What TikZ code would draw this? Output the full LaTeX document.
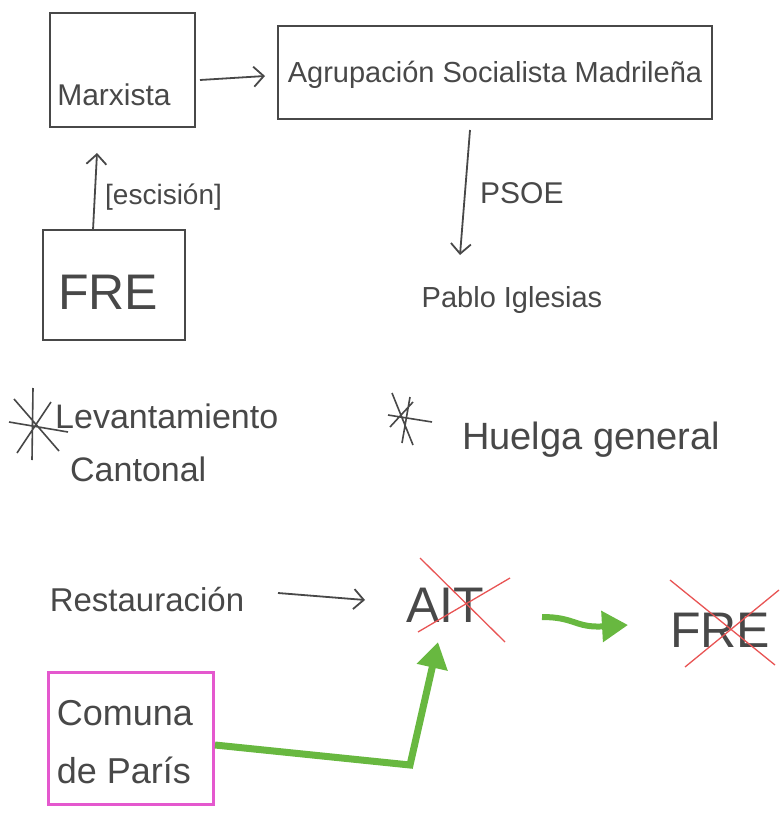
\documentclass[tikz,border=0pt]{standalone}
\usepackage{fontspec}
\setmainfont{Liberation Sans}
\usetikzlibrary{arrows.meta}
\definecolor{ink}{RGB}{72,72,72}
\definecolor{crossred}{RGB}{232,84,84}
\definecolor{mygreen}{RGB}{104,184,64}
\definecolor{mypink}{RGB}{228,88,206}
\newcommand{\fs}[2]{\fontsize{#1}{#2}\selectfont}
\tikzset{
  txt/.style={inner sep=0pt, text=ink},
  box/.style={draw=ink, line width=2pt, inner sep=0pt},
  pinkbox/.style={draw=mypink, line width=3pt, inner sep=0pt},
  arr/.style={draw=ink, line width=1.8pt, -{Straight Barb[length=10pt,width=20pt,line width=1.8pt]}},
  garr/.style={draw=mygreen, line width=6pt, -{Triangle[length=26pt,width=30pt]}},
  cross/.style={draw=crossred, line width=1.3pt},
  star/.style={draw=ink, line width=1.6pt},
}
\begin{document}
\begin{tikzpicture}[x=1pt,y=-1pt]
\useasboundingbox (0,0) rectangle (779,821);
% top row
\node[box, minimum width=145pt, minimum height=114pt] (marx) at (122,70) {};
\node[txt, font=\fs{30}{36}] (marxt) at (114,95) {Marxista};
\node[box, minimum width=434pt, minimum height=93pt] (agr) at (495,73) {};
\node[txt, font=\fs{29}{34}] (agrt) at (495,75) {Agrupación Socialista Madrileña};
\draw[arr] ([xshift=78pt,yshift=-10pt]marx.center) -- ([xshift=-230pt,yshift=-3pt]agr.center);
% PSOE
\node[txt, font=\fs{29}{34}] (pablo) at (512,300) {Pablo Iglesias};
\draw[arr] ([xshift=-25pt,yshift=-57pt]agr.center) -- ([xshift=-52pt,yshift=45pt]pablo.center);
\node[txt, font=\fs{30}{36}, anchor=west] (psoe) at (480,193) {PSOE};
% FRE box
\node[box, minimum width=142pt, minimum height=110pt] (fre) at (114,285) {};
\node[txt, font=\fs{50}{60}] (fret) at (108,292) {FRE};
\draw[arr] ([xshift=-21pt,yshift=55pt]fre.center) -- ([xshift=-25pt,yshift=-83pt]marx.center);
\node[txt, font=\fs{28}{32}, anchor=west] (esc) at (105,197) {[escisión]};
% asterisks and events
\draw[star] (33,388) -- (32,460) (14,399) -- (59,451) (9,422) -- (68,432) (17,453) -- (51,402);
\node[txt, font=\fs{34}{40}, anchor=west] (lev) at (55,416) {Levantamiento};
\node[txt, font=\fs{34}{40}, anchor=west] (cant) at (70,469) {Cantonal};
\draw[star] (392,393) -- (413,445) (410,397) -- (402,443) (388,415) -- (432,422) (390,427) -- (413,402);
\node[txt, font=\fs{38}{44}, anchor=west] (huel) at (462,440) {Huelga general};
% bottom
\node[txt, font=\fs{33}{40}] (rest) at (147,600) {Restauración};
\node[txt, font=\fs{50}{60}] (ait) at (445,605) {AIT};
\draw[arr] ([xshift=131pt,yshift=7pt]rest.center) -- ([xshift=-80pt,yshift=5pt]ait.center);
\draw[cross] (420,558) -- (505,642) (418,632) -- (510,578);
\node[txt, font=\fs{50}{60}] (fre2) at (720,630) {FRE};
\draw[cross] (670,580) -- (775,665) (685,667) -- (779,590);
\draw[garr] ([xshift=97pt,yshift=-12pt]ait.center) .. controls (575,617) and (575,628) .. ([xshift=-92pt,yshift=5pt]fre2.center);
\node[pinkbox, minimum width=165pt, minimum height=132pt] (com) at (131,738) {};
\node[txt, font=\fs{36}{58}, align=left] (comt) at (125,742) {Comuna\\de París};
\draw[garr, line width=7pt] ([xshift=84pt,yshift=-7pt]com.center) -- (410,765) -- ([xshift=-7pt,yshift=-37pt]ait.center);
\end{tikzpicture}
\end{document}
